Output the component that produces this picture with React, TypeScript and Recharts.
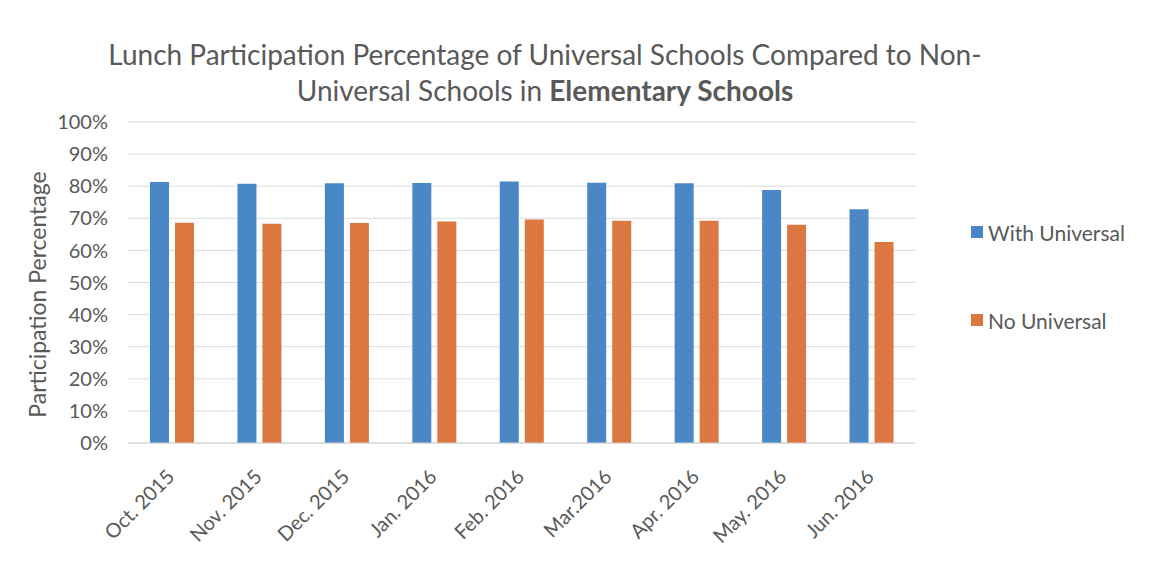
import React from "react";
import { BarChart, Bar, XAxis, YAxis, CartesianGrid } from "recharts";

// month labels along the x axis
const months = [
  "Oct. 2015",
  "Nov. 2015",
  "Dec. 2015",
  "Jan. 2016",
  "Feb. 2016",
  "Mar.2016",
  "Apr. 2016",
  "May. 2016",
  "Jun. 2016",
];

// participation percentages
const withUniversal = [81.3, 80.8, 80.9, 81.0, 81.5, 81.1, 80.9, 78.8, 72.8];
const noUniversal = [68.6, 68.3, 68.5, 69.0, 69.6, 69.2, 69.2, 68.0, 62.6];

const yTicks = [0, 10, 20, 30, 40, 50, 60, 70, 80, 90, 100];

const BLUE = "#4a87c6";
const ORANGE = "#dc7741";
const TEXT = "#595959";
const FONT = "Lato, 'Open Sans', sans-serif";

const data = months.map((m, i) => ({
  month: m,
  withU: withUniversal[i],
  noU: noUniversal[i],
}));

const AxisTitle = (props: any) => {
  const vb = props.viewBox || {};
  const cy = (vb.y || 0) + (vb.height || 0) / 2 + 12;
  return (
    <text
      x={46}
      y={cy}
      transform={`rotate(-90, 46, ${cy})`}
      textAnchor="middle"
      fill={TEXT}
      fontSize={23}
      fontFamily={FONT}
    >
      Participation Percentage
    </text>
  );
};

const XTick = (props: any) => {
  const { x, y, payload } = props;
  const tx = x + 4;
  const ty = y + 27;
  return (
    <text
      x={tx}
      y={ty}
      transform={`rotate(-45, ${tx}, ${ty})`}
      textAnchor="end"
      fill={TEXT}
      fontSize={20}
      fontFamily={FONT}
    >
      {payload.value}
    </text>
  );
};

const App: React.FC = () => {
  return (
    <div
      style={{
        position: "absolute",
        left: 0,
        top: 0,
        width: 1165,
        height: 580,
        background: "#fff",
        fontFamily: FONT,
      }}
    >
      {/* title */}
      <div
        style={{
          position: "absolute",
          left: 0,
          top: 36,
          width: 1090,
          textAlign: "center",
          color: TEXT,
          fontSize: 28,
          lineHeight: "36px",
        }}
      >
        Lunch Participation Percentage of Universal Schools Compared to Non-
        <br />
        Universal Schools in <b>Elementary Schools</b>
      </div>

      <BarChart
        width={1165}
        height={580}
        data={data}
        margin={{ top: 122, right: 250, bottom: 0, left: 0 }}
        barSize={19}
        barGap={6}
      >
        <CartesianGrid vertical={false} stroke="#dcdcdc" />
        <XAxis
          dataKey="month"
          axisLine={{ stroke: "#d0d0d0" }}
          tickLine={false}
          interval={0}
          height={137}
          tick={<XTick />}
        />
        <YAxis
          width={128}
          domain={[0, 100]}
          ticks={yTicks}
          tickFormatter={(v: number) => `${v}%`}
          axisLine={false}
          tickLine={false}
          tickMargin={14}
          tick={{ fill: TEXT, fontSize: 20, fontFamily: FONT }}
          label={<AxisTitle />}
        />
        <Bar dataKey="withU" fill={BLUE} isAnimationActive={false} />
        <Bar dataKey="noU" fill={ORANGE} isAnimationActive={false} />
      </BarChart>

      {/* legend */}
      <div style={{ position: "absolute", left: 971, top: 218, color: TEXT, fontSize: 21 }}>
        <div style={{ display: "flex", alignItems: "center", height: 28 }}>
          <span style={{ width: 12, height: 12, background: BLUE, marginRight: 5 }} />
          With Universal
        </div>
        <div style={{ display: "flex", alignItems: "center", height: 28, marginTop: 60 }}>
          <span style={{ width: 12, height: 12, background: ORANGE, marginRight: 5 }} />
          No Universal
        </div>
      </div>
    </div>
  );
};

export default App;
